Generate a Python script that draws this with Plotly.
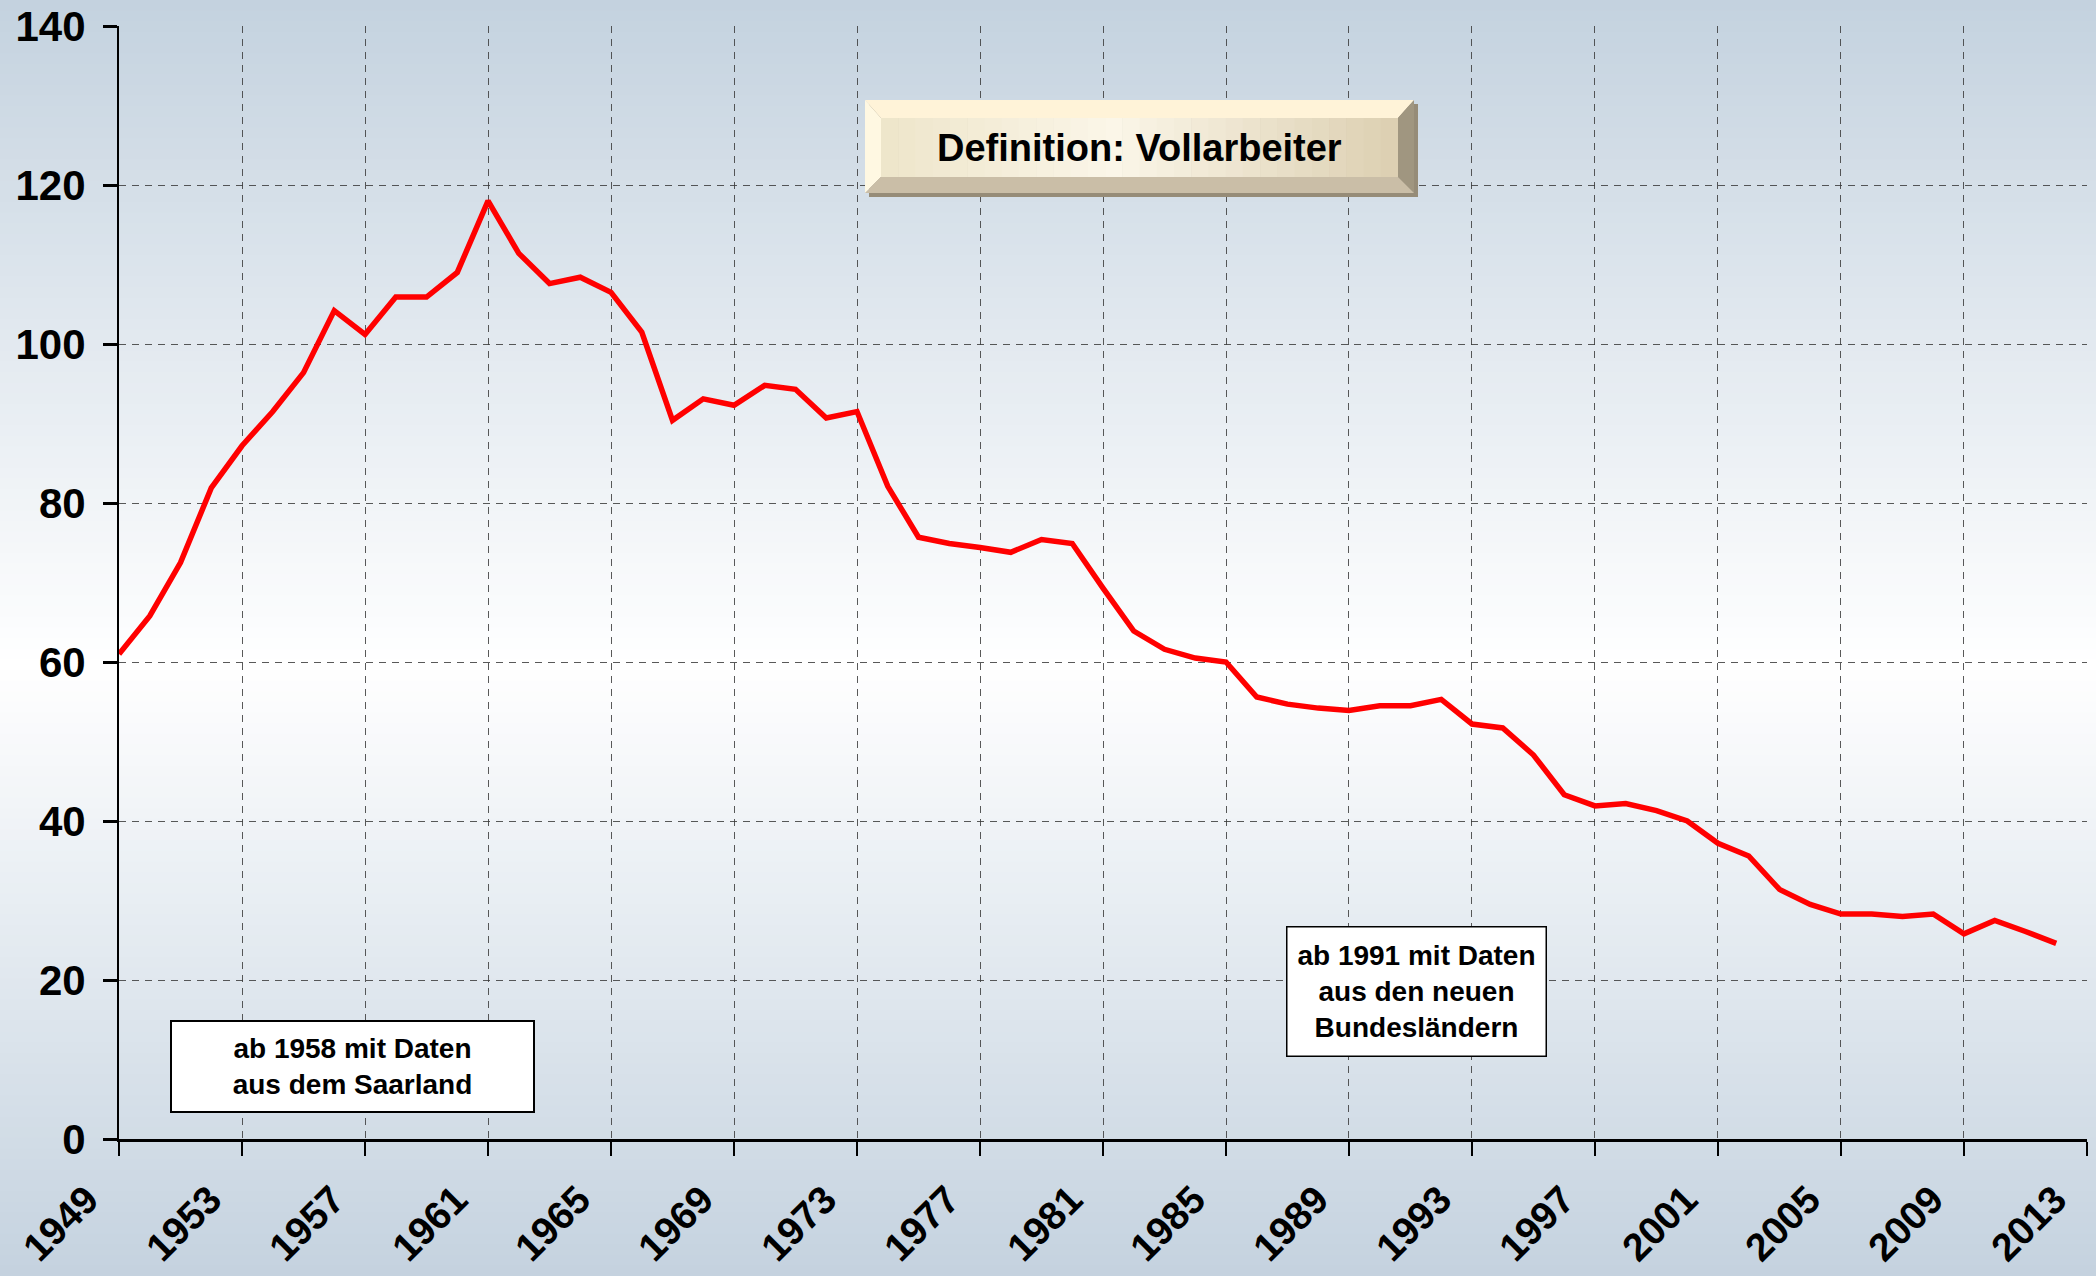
import plotly.graph_objects as go

# ---------------- data ----------------
years = [1949, 1950, 1951, 1952, 1953, 1954, 1955, 1956, 1957, 1958,
         1959, 1960, 1961, 1962, 1963, 1964, 1965, 1966, 1967, 1968,
         1969, 1970, 1971, 1972, 1973, 1974, 1975, 1976, 1977, 1978,
         1979, 1980, 1981, 1982, 1983, 1984, 1985, 1986, 1987, 1988,
         1989, 1990, 1991, 1992, 1993, 1994, 1995, 1996, 1997, 1998,
         1999, 2000, 2001, 2002, 2003, 2004, 2005, 2006, 2007, 2008,
         2009, 2010, 2011, 2012]
values = [61.0, 65.8, 72.5, 81.9, 87.2, 91.5, 96.4, 104.2, 101.2, 105.9,
          105.9, 109.0, 118.0, 111.4, 107.6, 108.4, 106.5, 101.5, 90.4, 93.1,
          92.3, 94.8, 94.3, 90.7, 91.5, 82.1, 75.7, 74.9, 74.4, 73.8,
          75.4, 74.9, 69.3, 63.9, 61.6, 60.5, 60.0, 55.6, 54.7, 54.2,
          53.9, 54.5, 54.5, 55.3, 52.2, 51.7, 48.3, 43.3, 41.9, 42.2,
          41.3, 40.0, 37.2, 35.6, 31.4, 29.5, 28.3, 28.3, 28.0, 28.3,
          25.8, 27.5, 26.1, 24.6]
x_tickvals = [1949, 1953, 1957, 1961, 1965, 1969, 1973, 1977, 1981,
              1985, 1989, 1993, 1997, 2001, 2005, 2009, 2013]
x_ticktext = [str(v) for v in x_tickvals]
y_tickvals = [0, 20, 40, 60, 80, 100, 120, 140]

title_text = "Definition: Vollarbeiter"
note1_text = "ab 1958 mit Daten<br>aus dem Saarland"
note2_text = "ab 1991 mit Daten<br>aus den neuen<br>Bundesländern"

# ---------------- layout geometry ----------------
W, H = 2096, 1276
ML, MR, MT, MB = 119, 9, 26, 137
PW = W - ML - MR
PH = H - MT - MB
FONT = "Liberation Sans, Arial, sans-serif"


def PX(x):
    return (x - ML) / PW


def PY(y):
    return (H - MB - y) / PH


def lerp(c1, c2, t):
    return tuple(round(a + (b - a) * t) for a, b in zip(c1, c2))


def rgb(c):
    return "rgb(%d,%d,%d)" % c


shapes = []

# background vertical gradient (blue-grey -> white -> blue-grey)
stops = [(0.0, (196, 210, 223)), (0.52, (255, 255, 255)), (1.0, (196, 210, 223))]
NB = 120
for i in range(NB):
    t = (i + 0.5) / NB
    for j in range(len(stops) - 1):
        if stops[j][0] <= t <= stops[j + 1][0]:
            tt = (t - stops[j][0]) / (stops[j + 1][0] - stops[j][0])
            col = lerp(stops[j][1], stops[j + 1][1], tt)
            break
    y0 = i * H / NB
    y1 = (i + 1) * H / NB + 1
    shapes.append(dict(type="rect", xref="paper", yref="paper",
                       x0=PX(-5), x1=PX(W + 5), y0=PY(y0), y1=PY(y1),
                       fillcolor=rgb(col), line=dict(width=0), layer="below"))

# bevelled title box
bx0, bx1, by0, by1 = 865, 1414, 100, 193
fx0, fx1, fy0, fy1 = 881, 1398, 118, 177
# shadow
shapes.append(dict(type="rect", xref="paper", yref="paper",
                   x0=PX(bx0 + 4), x1=PX(bx1 + 4), y0=PY(by0 + 4), y1=PY(by1 + 4),
                   fillcolor="rgb(150,140,120)", line=dict(width=0), layer="above"))


def poly(pts, color):
    d = "M " + " L ".join("%f,%f" % (PX(x), PY(y)) for x, y in pts) + " Z"
    shapes.append(dict(type="path", xref="paper", yref="paper", path=d,
                       fillcolor=color, line=dict(width=0), layer="above"))


poly([(bx0, by0), (bx1, by0), (fx1, fy0), (fx0, fy0)], "rgb(255,243,216)")   # top
poly([(bx0, by0), (fx0, fy0), (fx0, fy1), (bx0, by1)], "rgb(255,248,226)")   # left
poly([(bx1, by0), (bx1, by1), (fx1, fy1), (fx1, fy0)], "rgb(160,150,128)")   # right
poly([(bx0, by1), (fx0, fy1), (fx1, fy1), (bx1, by1)], "rgb(202,190,167)")   # bottom

face_stops = [(0.0, (238, 229, 202)), (0.45, (251, 246, 232)), (1.0, (220, 207, 177))]
NF = 30
for i in range(NF):
    t = (i + 0.5) / NF
    for j in range(len(face_stops) - 1):
        if face_stops[j][0] <= t <= face_stops[j + 1][0]:
            tt = (t - face_stops[j][0]) / (face_stops[j + 1][0] - face_stops[j][0])
            col = lerp(face_stops[j][1], face_stops[j + 1][1], tt)
            break
    xa = fx0 + (fx1 - fx0) * i / NF
    xb = fx0 + (fx1 - fx0) * (i + 1) / NF + 0.6
    shapes.append(dict(type="rect", xref="paper", yref="paper",
                       x0=PX(xa), x1=PX(min(xb, fx1)), y0=PY(fy0), y1=PY(fy1),
                       fillcolor=rgb(col), line=dict(width=0), layer="above"))

# ---------------- figure ----------------
fig = go.Figure()
fig.add_trace(go.Scatter(
    x=years, y=values, mode="lines",
    line=dict(color="#ff0000", width=5.5),
    hoverinfo="x+y", showlegend=False,
))

grid_dash = "7px,6px"
fig.update_xaxes(
    type="linear", range=[1948.999, 2013.001], automargin=False,
    tickmode="array", tickvals=x_tickvals, ticktext=x_ticktext,
    tickangle=-45,
    tickfont=dict(family=FONT, size=39, color="black", weight="bold"),
    ticks="outside", ticklen=14, tickwidth=2, tickcolor="black",
    ticklabelstandoff=5, ticklabelshift=-32,
    showline=True, linecolor="black", linewidth=3,
    showgrid=True, gridcolor="rgba(60,60,60,0.85)", gridwidth=1, griddash=grid_dash,
    zeroline=False,
)
fig.update_yaxes(
    range=[0, 140], tickmode="array", tickvals=y_tickvals, automargin=False,
    tickfont=dict(family=FONT, size=42, color="black", weight="bold"),
    ticks="outside", ticklen=14, tickwidth=3, tickcolor="black",
    ticklabelstandoff=9,
    showline=True, linecolor="black", linewidth=2,
    showgrid=True, gridcolor="rgba(60,60,60,0.85)", gridwidth=1, griddash=grid_dash,
    zeroline=False,
)

annotations = [
    dict(text="<b>%s</b>" % title_text, xref="paper", yref="paper",
         x=PX(1139), y=PY(148), xanchor="center", yanchor="middle",
         showarrow=False, font=dict(family=FONT, size=38, color="black")),
    dict(text="<b>%s</b>" % note1_text, xref="paper", yref="paper",
         x=PX(352.5), y=PY(1066.5), xanchor="center", yanchor="middle",
         showarrow=False, align="center",
         width=361, height=89, borderpad=0,
         bgcolor="white", bordercolor="black", borderwidth=2,
         font=dict(family=FONT, size=28, color="black")),
    dict(text="<b>%s</b>" % note2_text, xref="paper", yref="paper",
         x=PX(1416), y=PY(991), xanchor="center", yanchor="middle",
         showarrow=False, align="center",
         width=258, height=128, borderpad=0,
         bgcolor="white", bordercolor="black", borderwidth=1.5,
         font=dict(family=FONT, size=28, color="black")),
]

fig.update_layout(
    width=W, height=H, autosize=False,
    margin=dict(l=ML, r=MR, t=MT, b=MB, pad=0, autoexpand=False),
    paper_bgcolor="rgb(196,210,223)", plot_bgcolor="rgba(0,0,0,0)",
    shapes=shapes, annotations=annotations,
    font=dict(family=FONT, color="black"),
)

fig.write_html("out.html", include_plotlyjs=True,
               config={"displayModeBar": False},
               post_script="document.body.style.margin='0';document.body.style.overflow='hidden';")
